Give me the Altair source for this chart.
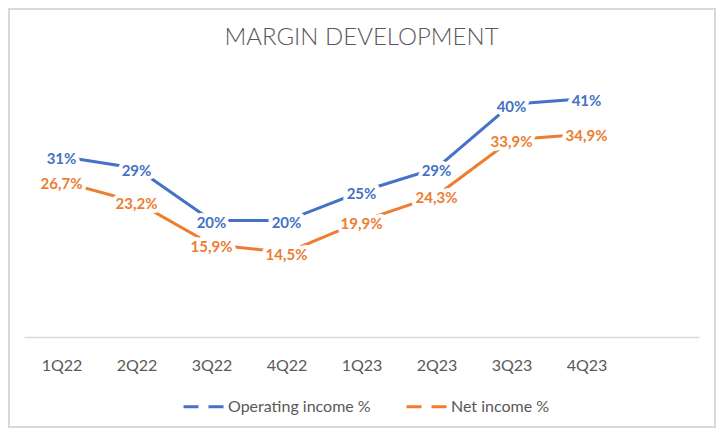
import altair as alt
import pandas as pd

quarters = ["1Q22", "2Q22", "3Q22", "4Q22", "1Q23", "2Q23", "3Q23", "4Q23"]
operating = [31, 29, 20, 20, 25, 29, 40, 41]
net = [26.7, 23.2, 15.9, 14.5, 19.9, 24.3, 33.9, 34.9]
series = ["Operating income %", "Net income %"]
colors = ["#4472C4", "#ED7D31"]
title_text = "MARGIN DEVELOPMENT"

rows = []
for q, v in zip(quarters, operating):
    rows.append({"q": q, "s": series[0], "v": v, "lab": f"{v:.0f}%"})
for q, v in zip(quarters, net):
    rows.append({"q": q, "s": series[1], "v": v, "lab": f"{v:.1f}%".replace(".", ",")})
df = pd.DataFrame(rows)

FONT = "Lato"
GRAY = "#595959"

x = alt.X("q:N", scale=alt.Scale(type="point", domain=quarters + [" "], padding=0.5),
          axis=alt.Axis(title=None, labelAngle=0, ticks=False, grid=False,
                        domainColor="#d9d9d9", domainWidth=1.5,
                        labelFont=FONT, labelFontSize=16, labelColor=GRAY,
                        labelBaseline="alphabetic", labelPadding=33))
y = alt.Y("v:Q", scale=alt.Scale(domain=[0, 50], nice=False), axis=None)
color = alt.Color("s:N", scale=alt.Scale(domain=series, range=colors),
                  legend=alt.Legend(title=None, orient="none", legendX=158, legendY=339,
                                    direction="horizontal", symbolType="stroke",
                                    symbolSize=1600, symbolStrokeWidth=3,
                                    symbolDash=[15, 10], labelFont=FONT,
                                    labelFontSize=16, labelColor=GRAY,
                                    labelOffset=3, columnPadding=29, padding=0))

base = alt.Chart(df)

border = alt.Chart(pd.DataFrame({"a": [0]})).mark_rect(
    fill=None, stroke="#d9d9d9", strokeWidth=2
).encode(x=alt.value(-15), x2=alt.value(691), y=alt.value(-37), y2=alt.value(381))

title = alt.Chart(pd.DataFrame({"t": [title_text]})).mark_text(
    font=FONT, fontSize=24, fontWeight=300, color=GRAY, align="center",
    baseline="alphabetic"
).encode(x=alt.value(337.5), y=alt.value(-1), text="t:N")

lines = base.mark_line(strokeWidth=3).encode(x=x, y=y, color=color, detail="s:N")

halo = base.mark_text(font=FONT, fontSize=15, fontWeight="bold", stroke="white",
                      strokeWidth=8, fill="white", baseline="middle", dy=2.5,
                      strokeJoin="round").encode(x=x, y=y, text="lab:N")
labels = base.mark_text(font=FONT, fontSize=15, fontWeight="bold",
                        baseline="middle", dy=2.5).encode(
    x=x, y=y, text="lab:N",
    color=alt.Color("s:N", scale=alt.Scale(domain=series, range=colors), legend=None))

chart = alt.layer(border, title, lines, halo, labels).properties(
    width=675, height=291,
    autosize=alt.AutoSizeParams(type="none"),
    padding={"left": 16, "top": 38, "right": 17, "bottom": 91},
).configure_view(stroke=None)

chart.save("out.html", embed_options={"renderer": "svg", "actions": False})
